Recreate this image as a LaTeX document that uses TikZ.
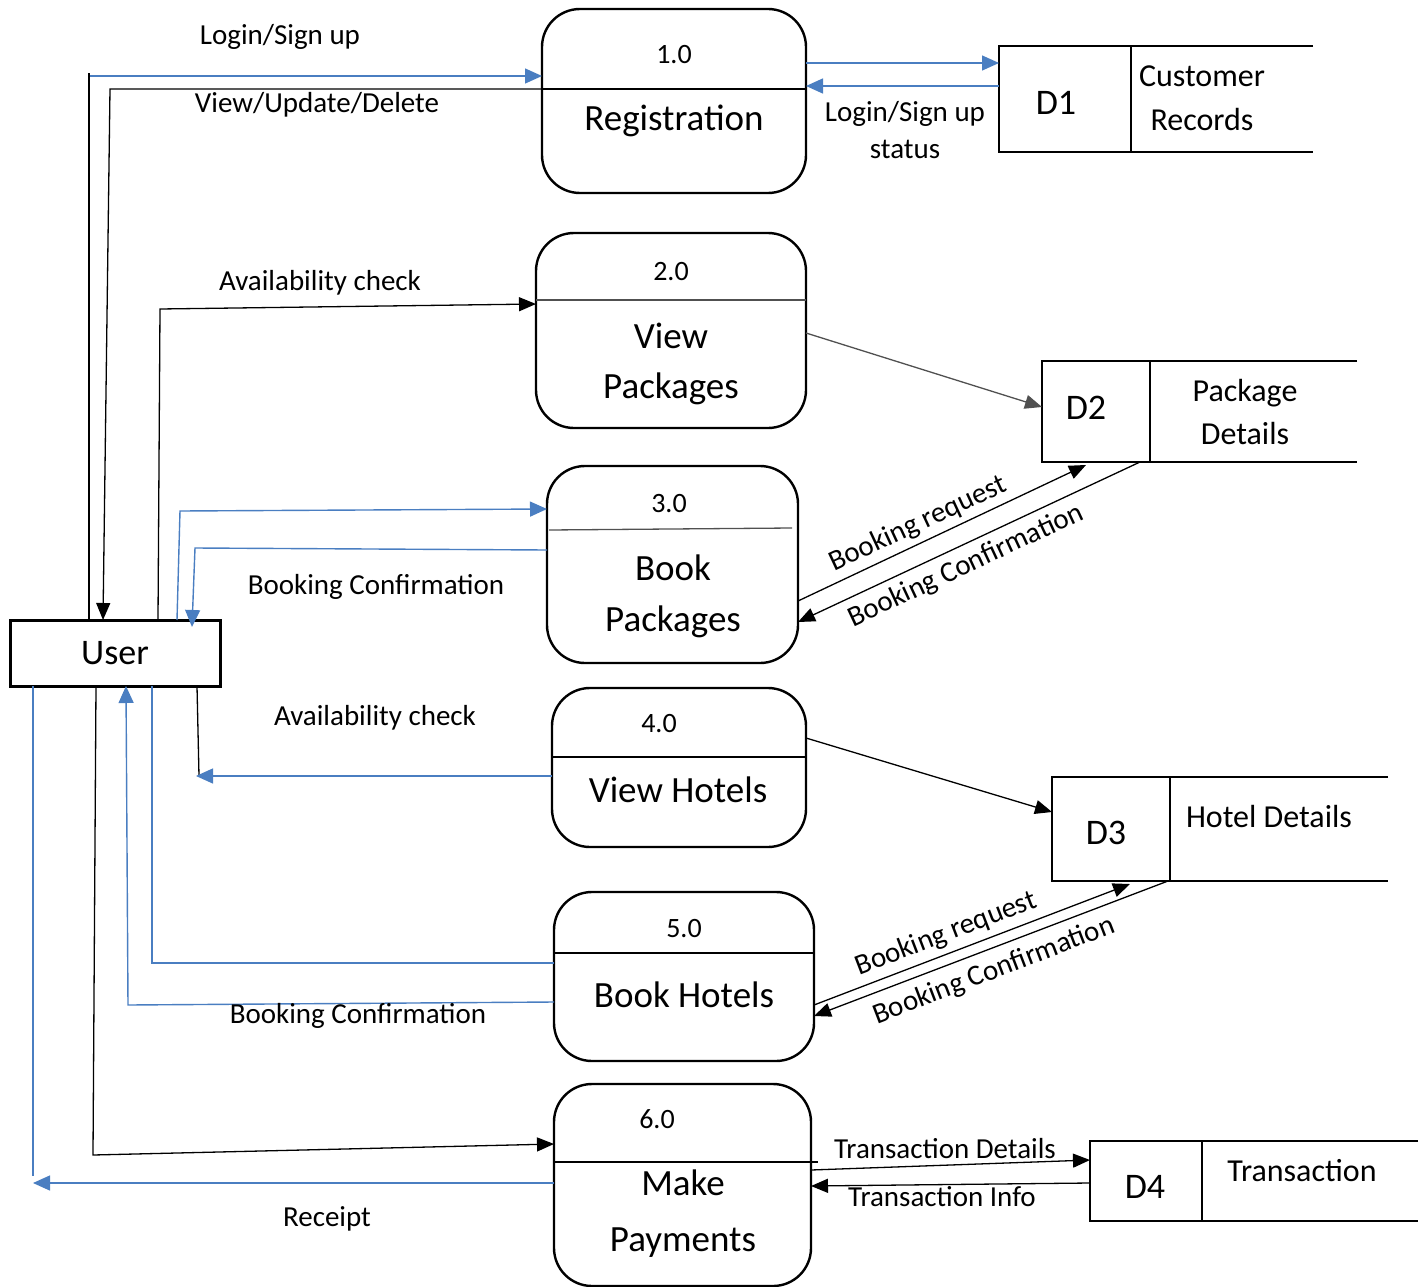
\documentclass[tikz,border=0pt]{standalone}
\usepackage{fontspec}
\setmainfont{Carlito}
\usetikzlibrary{arrows.meta,calc}
\definecolor{lnblue}{RGB}{74,126,193}
\definecolor{lngray}{RGB}{80,80,80}
\begin{document}
\begin{tikzpicture}[x=1pt,y=-1pt,
  proc/.style={draw, line width=2.4pt, rounded corners=38pt, inner sep=0pt, outer sep=0pt},
  userbox/.style={draw, line width=3pt, inner sep=0pt, outer sep=0pt, minimum width=210pt, minimum height=66pt, font=\fontsize{36}{44}\selectfont},
  storearea/.style={inner sep=0pt, outer sep=0pt},
  storeline/.style={line width=1.3pt},
  ktip/.style={-{Triangle[length=17pt,width=14pt]}},
  btip/.style={-{Triangle[length=17pt,width=15pt]}},
  bflow/.style={draw=lnblue, line width=1.4pt},
  kflow/.style={draw=black, line width=1.3pt},
  gflow/.style={draw=lngray, line width=1.3pt},
  lbl/.style={font=\fontsize{29}{35}\selectfont, inner sep=0pt, align=center},
  num/.style={font=\fontsize{28}{34}\selectfont, inner sep=0pt},
  big/.style={font=\fontsize{37}{48}\selectfont, inner sep=0pt, align=center},
  dnum/.style={font=\fontsize{36}{44}\selectfont, inner sep=0pt},
  dtxt/.style={font=\fontsize{32}{42}\selectfont, inner sep=0pt, align=center}
]
\useasboundingbox (0,0) rectangle (1424,1287);

% ---------- processes ----------
\node[proc, minimum width=264pt, minimum height=184pt] (p1) at (674,101) {};
\node[proc, minimum width=270pt, minimum height=195pt] (p2) at (671,330.5) {};
\node[proc, minimum width=251pt, minimum height=197pt] (p3) at (672.5,564.5) {};
\node[proc, minimum width=254pt, minimum height=159pt] (p4) at (679,767.5) {};
\node[proc, minimum width=260pt, minimum height=169pt] (p5) at (684,976.5) {};
\node[proc, minimum width=257pt, minimum height=202pt] (p6) at (682.5,1185) {};

\draw[line width=1.3pt] (p1.west |- 0,89) -- (p1.east |- 0,89);
\draw[line width=1.3pt, lngray] (p2.west |- 0,300) -- (p2.east |- 0,300);
\draw[line width=1.3pt, lngray] (549,530) -- (792,528);
\draw[line width=1.3pt] (p4.west |- 0,757) -- (p4.east |- 0,757);
\draw[line width=1.3pt] (p5.west |- 0,953) -- (p5.east |- 0,953);
\draw[line width=2pt] (p6.west |- 0,1162) -- (818,1162);

\node[num] (n1) at (674,55) {1.0};
\node[big] (t1) at (674,121) {Registration};
\node[num] (n2) at (671,272) {2.0};
\node[big] (t2) at (671,364) {View\\[2pt]Packages};
\node[num] (n3) at (669,504) {3.0};
\node[big] (t3) at (673,596) {Book\\[3pt]Packages};
\node[num] (n4) at (659,724) {4.0};
\node[big] (t4) at (678,790) {View Hotels};
\node[num] (n5) at (684,929) {5.0};
\node[big] (t5) at (684,995) {Book Hotels};
\node[num] (n6) at (657,1119) {6.0};
\node[big] (t6) at (683,1214) {Make\\[8pt]Payments};

% ---------- user ----------
\node[userbox] (u) at (115,653) {User};

% ---------- data stores ----------
\node[storearea, minimum width=314pt, minimum height=106pt] (d1) at (1156,99) {};
\draw[storeline] (d1.north east) -- (d1.north west) -- (d1.south west) -- (d1.south east);
\draw[storeline] (d1.north -| 1131,0) -- (d1.south -| 1131,0);
\node[dnum] (d1n) at (1056,103) {D1};
\node[dtxt] (d1t) at (1202,98) {Customer\\[2pt]Records};

\node[storearea, minimum width=315pt, minimum height=101pt] (d2) at (1199.5,411.5) {};
\draw[storeline] (d2.north east) -- (d2.north west) -- (d2.south west) -- (d2.south east);
\draw[storeline] (d2.north -| 1150,0) -- (d2.south -| 1150,0);
\node[dnum] (d2n) at (1086,408) {D2};
\node[dtxt] (d2t) at (1245,412) {Package\\[1pt]Details};

\node[storearea, minimum width=336pt, minimum height=104pt] (d3) at (1220,829) {};
\draw[storeline] (d3.north east) -- (d3.north west) -- (d3.south west) -- (d3.south east);
\draw[storeline] (d3.north -| 1170,0) -- (d3.south -| 1170,0);
\node[dnum] (d3n) at (1106,833) {D3};
\node[dtxt] (d3t) at (1269,816) {Hotel Details};

\node[storearea, minimum width=328pt, minimum height=80pt] (d4) at (1254,1181) {};
\draw[storeline] (d4.north east) -- (d4.north west) -- (d4.south west) -- (d4.south east);
\draw[storeline] (d4.north -| 1202,0) -- (d4.south -| 1202,0);
\node[dnum] (d4n) at (1145,1187) {D4};
\node[dtxt] (d4t) at (1302,1171) {Transaction};

% ---------- user <-> processes ----------
\draw[kflow] (u.north -| 89,0) -- (89,73);
\draw[bflow, btip] (90,76) -- (p1.west |- 0,76);
\draw[kflow, ktip] (p1.west |- 0,89) -- (110,89) -- (u.north -| 103,0);
\draw[kflow, ktip] (u.north -| 158,0) -- (160,309) -- (p2.west |- 0,304);
\draw[bflow, btip] (u.north -| 177,0) -- (180,511) -- (p3.west |- 0,509);
\draw[bflow, btip] (p3.west |- 0,550) -- (195,548) -- ($(u.north -| 192,0)+(0,7)$);
\draw[kflow] (u.south -| 197,0) -- (199,776);
\draw[bflow, btip] (p4.west |- 0,776) -- (196,776);
\draw[bflow] (u.south -| 152,0) -- (152,963) -- (p5.west |- 0,963);
\draw[bflow, btip] (p5.west |- 0,1002) -- (128,1005) -- (u.south -| 126,0);
\draw[kflow, ktip] (u.south -| 96,0) -- (93,1155) -- (p6.west |- 0,1144);
\draw[bflow] (u.south -| 33,0) -- (33,1176);
\draw[bflow, btip] (p6.west |- 0,1183) -- (33,1183);

\node[lbl] (l1) at (280,37) {Login/Sign up};
\node[lbl] (l2) at (317,105) {View/Update/Delete};
\node[lbl] (l3) at (320,283) {Availability check};
\node[lbl] (l4) at (376,587) {Booking Confirmation};
\node[lbl] (l5) at (375,718) {Availability check};
\node[lbl] (l6) at (358,1016) {Booking Confirmation};
\node[lbl] (l7) at (327,1219) {Receipt};

% ---------- processes <-> stores ----------
\draw[bflow, btip] (p1.east |- 0,63) -- (d1.west |- 0,63);
\draw[bflow, btip] (d1.west |- 0,86) -- (p1.east |- 0,86);
\node[lbl] (l8) at (905,130) {Login/Sign up\\[2pt]status};

\draw[gflow, ktip] (p2.east |- 0,333) -- (d2.west |- 0,407);
\draw[kflow, ktip] (p3.east |- 0,601) -- (1086,465);
\draw[kflow, ktip] (d2.south -| 1140,0) -- (p3.east |- 0,622);
\node[lbl, rotate=25] (l9) at (918,524) {Booking request};
\node[lbl, rotate=25] (l10) at (966,566) {Booking Confirmation};

\draw[kflow, ktip] (p4.east |- 0,738) -- (d3.west |- 0,812);
\draw[kflow, ktip] (p5.east |- 0,1005) -- (1130,884);
\draw[kflow, ktip] (d3.south -| 1168,0) -- (p5.east |- 0,1016);
\node[lbl, rotate=21] (l11) at (946,934) {Booking request};
\node[lbl, rotate=21] (l12) at (994,971) {Booking Confirmation};

\draw[kflow, ktip] (p6.east |- 0,1170) -- (d4.west |- 0,1160);
\draw[kflow, ktip] (d4.west |- 0,1183) -- (p6.east |- 0,1186);
\node[lbl] (l13) at (945,1149) {Transaction Details};
\node[lbl] (l14) at (942,1197) {Transaction Info};
\end{tikzpicture}
\end{document}
